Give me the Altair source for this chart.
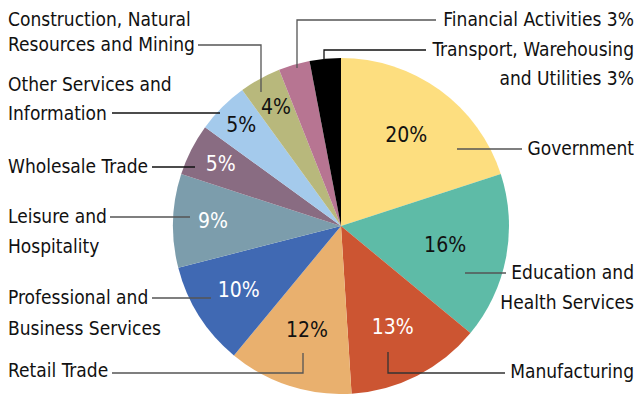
import altair as alt
import pandas as pd

# ---- data ----
categories = [
    "Government",
    "Education and Health Services",
    "Manufacturing",
    "Retail Trade",
    "Professional and Business Services",
    "Leisure and Hospitality",
    "Wholesale Trade",
    "Other Services and Information",
    "Construction, Natural Resources and Mining",
    "Financial Activities",
    "Transport, Warehousing and Utilities",
]
shares = [20, 16, 13, 12, 10, 9, 5, 5, 4, 3, 3]
pct_text = ["20%", "16%", "13%", "12%", "10%", "9%", "5%", "5%", "4%", "", ""]

# ---- styles / layout ----
colors = ["#FDDE7F", "#5EBBA7", "#CC5532", "#E9B06E", "#4069B3", "#7C9DAC",
          "#896C82", "#A4CAEC", "#B8B87C", "#B77592", "#000000"]
pct_tone = ["k", "k", "w", "k", "w", "w", "w", "k", "k", "k", "k"]
pct_radius = [111, 106, 114, 110, 121, 128, 135, 141, 135, 0, 0]

FONT = "DejaVu Sans Condensed, DejaVu Sans, sans-serif"
LABEL_SIZE = 19
W, H = 626, 386
CX, CY, R = 333, 218, 168
TOTAL = sum(shares)

left_labels = [
    ("Construction, Natural", 12),
    ("Resources and Mining", 37),
    ("Other Services and", 77),
    ("Information", 106),
    ("Wholesale Trade", 159),
    ("Leisure and", 209),
    ("Hospitality", 239),
    ("Professional and", 290),
    ("Business Services", 321),
    ("Retail Trade", 363),
]
right_labels = [
    ("Financial Activities 3%", 12),
    ("Transport, Warehousing", 42),
    ("and Utilities 3%", 71),
    ("Government", 141),
    ("Education and", 265),
    ("Health Services", 295),
    ("Manufacturing", 364),
]
RIGHT_X = 626

leaders = [
    ("Construction", "#555555", [(190, 37), (253, 37), (253, 84)]),
    ("Other", "#111111", [(104, 105), (212, 105)]),
    ("Financial", "#555555", [(428, 12), (289, 12), (289, 60)]),
    ("Transport", "#111111", [(418, 42), (316, 42), (316, 52)]),
    ("Government", "#555555", [(449, 141), (514, 141)]),
    ("Education", "#555555", [(457, 265), (498, 265)]),
    ("Manufacturing", "#333333", [(380, 344), (380, 365), (497, 365)]),
    ("Retail", "#555555", [(104, 365), (295, 365), (295, 345)]),
    ("Professional", "#555555", [(144, 290), (203, 290)]),
    ("Leisure", "#555555", [(102, 209), (182, 209)]),
    ("Wholesale", "#111111", [(144, 159), (187, 159)]),
]

# ---- tables ----
pie_df = pd.DataFrame({
    "idx": list(range(len(categories))),
    "cat": categories,
    "share": shares,
    "pct": pct_text,
    "tone": pct_tone,
    "lr": pct_radius,
})

line_rows = []
for name, col, pts in leaders:
    for k, (px, py) in enumerate(pts):
        line_rows.append({"name": name, "col": col, "k": k, "px": px, "py": py})
line_df = pd.DataFrame(line_rows)

left_df = pd.DataFrame({"t": [t for t, _ in left_labels],
                        "py": [y for _, y in left_labels],
                        "px": [0] * len(left_labels)})
right_df = pd.DataFrame({"t": [t for t, _ in right_labels],
                         "py": [y for _, y in right_labels],
                         "px": [RIGHT_X] * len(right_labels)})

# ---- chart ----
theta_scale = alt.Scale(domain=[0, TOTAL], range=[0, 6.283185307179586])

pie = alt.Chart(pie_df).mark_arc(outerRadius=R, strokeWidth=0).encode(
    theta=alt.Theta("share:Q", stack=True, scale=theta_scale),
    order=alt.Order("idx:Q", sort="ascending"),
    color=alt.Color("cat:N", scale=alt.Scale(domain=categories, range=colors), legend=None),
    x=alt.value(CX),
    y=alt.value(CY),
)

pct = alt.Chart(pie_df).transform_window(
    cum="sum(share)", sort=[alt.SortField("idx", order="ascending")]
).transform_calculate(
    mid="datum.cum - datum.share / 2"
).mark_text(font=FONT, fontSize=21, baseline="middle", align="center").encode(
    theta=alt.Theta("mid:Q", stack=False, scale=theta_scale),
    radius=alt.Radius("lr:Q", scale=None),
    text="pct:N",
    color=alt.when(alt.datum.tone == "w").then(alt.value("#FFFFFF")).otherwise(alt.value("#111111")),
    x=alt.value(CX),
    y=alt.value(CY),
)

lines = alt.Chart(line_df).mark_line(strokeWidth=1.3).encode(
    x=alt.X("px:Q", scale=None, axis=None),
    y=alt.Y("py:Q", scale=None, axis=None),
    detail="name:N",
    order="k:Q",
    color=alt.Color("col:N", scale=None),
)

left_text = alt.Chart(left_df).mark_text(
    font=FONT, fontSize=LABEL_SIZE, align="left", baseline="middle", color="#111111"
).encode(
    x=alt.X("px:Q", scale=None, axis=None),
    y=alt.Y("py:Q", scale=None, axis=None),
    text="t:N",
)

right_text = alt.Chart(right_df).mark_text(
    font=FONT, fontSize=LABEL_SIZE, align="right", baseline="middle", color="#111111"
).encode(
    x=alt.X("px:Q", scale=None, axis=None),
    y=alt.Y("py:Q", scale=None, axis=None),
    text="t:N",
)

chart = alt.layer(pie, pct, lines, left_text, right_text).resolve_scale(
    theta="independent"
).properties(
    width=W, height=H, padding=0, autosize="none", background="white"
).configure_view(stroke=None)

chart.save("out.html", embed_options={"renderer": "svg", "actions": False})
